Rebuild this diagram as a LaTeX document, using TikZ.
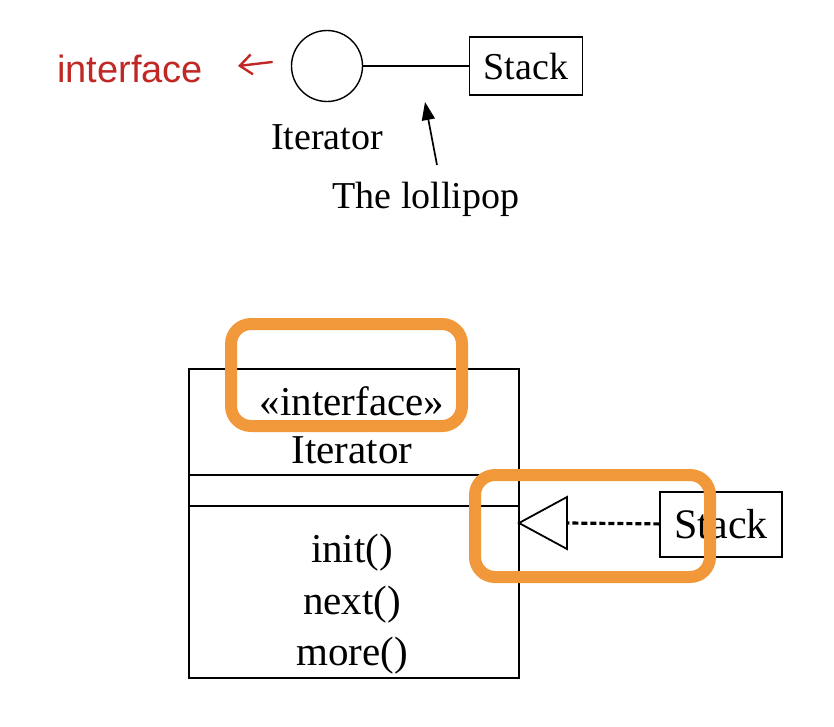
\documentclass[tikz,border=0pt]{standalone}
\usepackage{fontspec}
\setmainfont{Liberation Serif}
\newfontfamily\handfont{Liberation Sans}
\usetikzlibrary{arrows.meta}
\definecolor{penred}{RGB}{192,40,38}
\definecolor{marker}{RGB}{240,152,58}

\begin{document}
\begin{tikzpicture}[x=1pt,y=-1pt,line width=1.4pt,every node/.style={inner sep=2pt},
      txt/.style={font=\fontsize{38}{44}\selectfont},
      big/.style={font=\fontsize{41}{48}\selectfont},
      box/.style={draw,minimum width=#1,inner sep=0pt},
      hand/.style={text=penred,font=\handfont\fontsize{38}{44}\selectfont},
      annot/.style={draw=marker,line width=12pt,rounded corners=20pt},
      >={Stealth[width=3pt]}]
      \useasboundingbox (0,0) rectangle (834,726);
      % the lollipop
      \node[hand] (note) at (130,69) {interface};
      \coordinate (notetip) at (238,66);
      \draw[penred,line width=2.4pt,line cap=round,-{Straight Barb[length=12pt,width=20pt]}](272,62)--(notetip);
      \node[draw,circle,minimum size=71pt] (lolly) at (327,66) {};
      \node[box=113pt,minimum height=58pt,txt] (stackA) at (526,66) {Stack};
      \draw(lolly)--(stackA);
      \node[txt] (itername) at (327,137) {Iterator};
      \node[txt] (lolli) at (426,199) {The lollipop};
      \coordinate (tailA) at (437,165);\coordinate (tipA) at (425,102);
      \draw[line width=1.7pt,-{Triangle[length=18pt,width=13pt]}](tailA)--(tipA);
      % the class box
      \node[box=330pt,minimum height=309pt] (cls) at (354,523.5) {};
      \draw(cls.west|-0,475)--(cls.east|-0,475);
      \draw(cls.west|-0,506)--(cls.east|-0,506);
      \node[big] (stereo) at (352,401) {«interface»};
      \node[big] (clsname) at (352,450) {Iterator};
      \node[big] (opinit) at (352,553) {init()};
      \node[big] (opnext) at (352,605) {next()};
      \node[big] (opmore) at (352,656) {more()};
      \node[box=122pt,minimum height=65pt,font=\fontsize{42}{48}\selectfont] (stackB) at (721,524.5) {Stack};
      \coordinate (tri) at (519,523);\coordinate (tribase) at (567,523);
      \draw[line width=1.8pt](tri)--(567,497)--(567,549)--cycle;
      \draw[line width=3.2pt,dash pattern=on 6pt off 3pt](stackB)--(tribase);
      % marks
      \draw[annot](231,324)rectangle(462,426);
      \draw[annot](475,475)rectangle(710,577);
    \end{tikzpicture}
\end{document}
